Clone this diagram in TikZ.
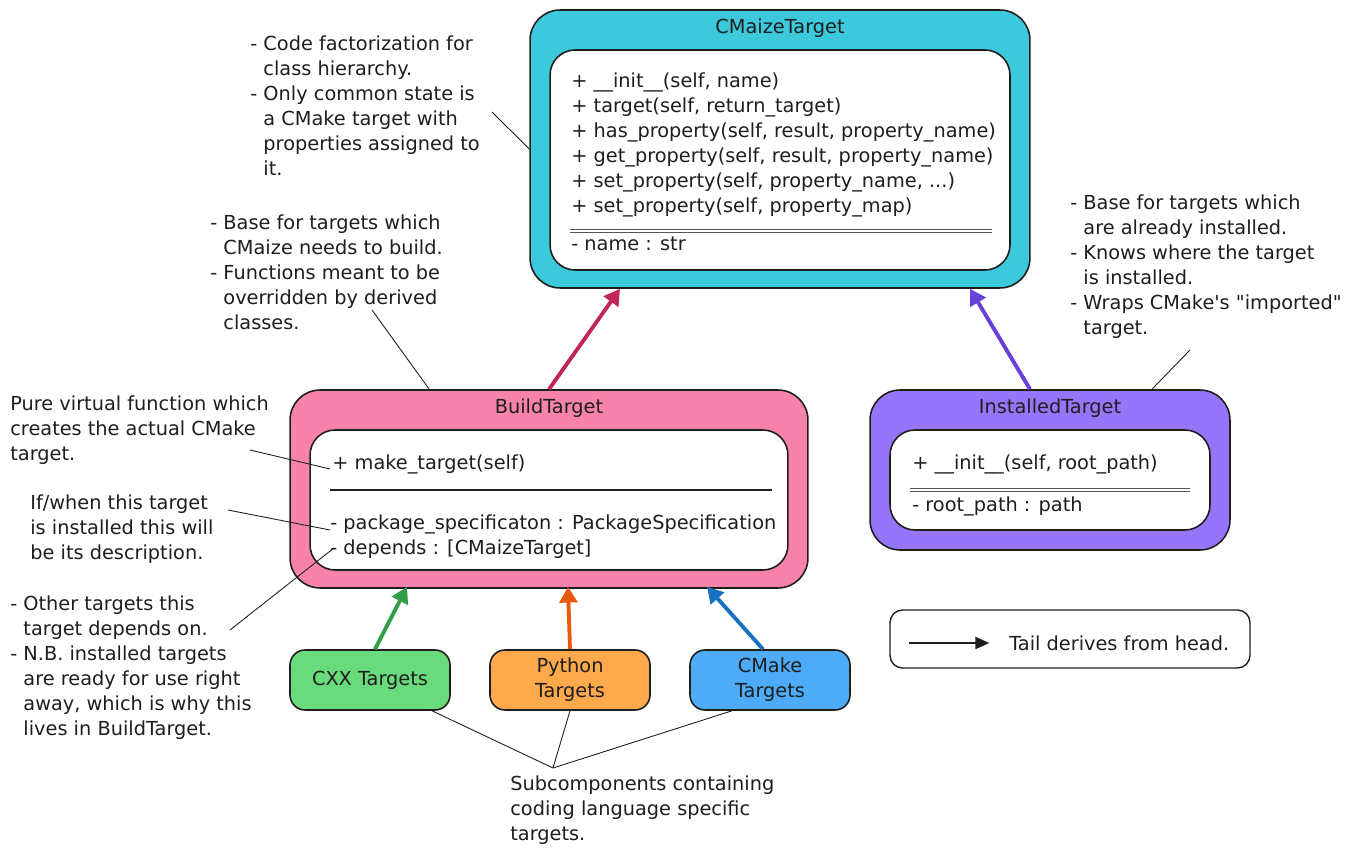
\documentclass[tikz,border=0pt]{standalone}
\usepackage{fontspec}
\setmainfont{DejaVu Sans}[Ligatures=TeXOff]
\usetikzlibrary{arrows.meta,calc}
\definecolor{ink}{HTML}{1E1E1E}
\definecolor{cyanfill}{HTML}{3BC9DB}
\definecolor{pinkfill}{HTML}{F783AC}
\definecolor{purplefill}{HTML}{9775FA}
\definecolor{greenfill}{HTML}{69DB7C}
\definecolor{orangefill}{HTML}{FFA94D}
\definecolor{bluefill}{HTML}{4DABF7}
\definecolor{crimsonline}{HTML}{C2255C}
\definecolor{purpleline}{HTML}{6741D9}
\definecolor{greenline}{HTML}{2F9E44}
\definecolor{orangeline}{HTML}{E8590C}
\definecolor{blueline}{HTML}{1971C2}
\begin{document}
\begin{tikzpicture}[x=0.02cm,y=-0.02cm,
  every node/.style={font=\fontsize{11}{14.3}\selectfont, text=ink},
  outerbox/.style={draw=ink, line width=0.9pt, rounded corners=0.6cm, inner sep=0},
  innerbox/.style={draw=ink, line width=0.9pt, fill=white, rounded corners=0.5cm, inner sep=0},
  smallbox/.style={draw=ink, line width=0.9pt, rounded corners=0.3cm, inner sep=0, align=center, minimum width=3.2cm, minimum height=1.2cm},
  txt/.style={anchor=north west, align=left, inner sep=0},
  inh/.style={line width=2.2pt, -{Triangle[length=9pt,width=10pt]}},
  note/.style={draw=ink, line width=0.5pt},
  sepline/.style={draw=ink!75, line width=0.55pt},
  sepsingle/.style={draw=ink, line width=0.7pt}]
\fill[white] (0,0) rectangle (1347,855);
\useasboundingbox (0,0) rectangle (1347,855);

% ---------- CMaizeTarget ----------
\node[outerbox, fill=cyanfill, minimum width=10cm, minimum height=5.56cm] (cmz) at (780,149) {};
\node[innerbox, minimum width=9.2cm, minimum height=4.4cm] (cmzin) at (780,160) {};
\node (cmzt) at (780,28) {CMaizeTarget};
\node[txt] (cmzm) at (571,72) {+ \_\_init\_\_(self, name)\\
+ target(self, return\_target)\\
+ has\_property(self, result, property\_name)\\
+ get\_property(self, result, property\_name)\\
+ set\_property(self, property\_name, ...)\\
+ set\_property(self, property\_map)};
\draw[sepline] (570,229.5) -- (992,229.5);
\draw[sepline] (570,232.5) -- (992,232.5);
\node[txt] (cmza) at (571,237) {- name : str};

% ---------- BuildTarget ----------
\node[outerbox, fill=pinkfill, minimum width=10.36cm, minimum height=3.96cm] (bld) at (549,489) {};
\node[innerbox, minimum width=9.56cm, minimum height=2.8cm] (bldin) at (549,500) {};
\node (bldt) at (549,408) {BuildTarget};
\node[txt] (bldm) at (332,454) {+ make\_target(self)};
\draw[sepsingle] (330,490) -- (772,490);
\node[txt] (blda) at (330,514) {- package\_specificaton : PackageSpecification\\
- depends : [CMaizeTarget]};

% ---------- InstalledTarget ----------
\node[outerbox, fill=purplefill, minimum width=7.2cm, minimum height=3.2cm] (ins) at (1050,470) {};
\node[innerbox, minimum width=6.4cm, minimum height=2cm] (insin) at (1050,480) {};
\node (inst) at (1050,408) {InstalledTarget};
\node[txt] (insm) at (912,454) {+ \_\_init\_\_(self, root\_path)};
\draw[sepline] (910,488.5) -- (1190,488.5);
\draw[sepline] (910,491.5) -- (1190,491.5);
\node[txt] (insa) at (912,496) {- root\_path : path};

% ---------- Sub components ----------
\node[smallbox, fill=greenfill] (cxx) at (370,680) {CXX Targets};
\node[smallbox, fill=orangefill] (py) at (570,680) {Python\\Targets};
\node[smallbox, fill=bluefill] (cmk) at (770,680) {CMake\\Targets};

% ---------- inheritance arrows ----------
\draw[inh, crimsonline] (bld.north) -- ($(cmz.south)+(-160,0)$);
\draw[inh, purpleline] ($(ins.north)+(-20,0)$) -- ($(cmz.south)+(190,0)$);
\draw[inh, greenline] ($(cxx.north)+(5,0)$) -- ($(bld.south)+(-142,-2)$);
\draw[inh, orangeline] (py.north) -- ($(bld.south)+(19,-2)$);
\draw[inh, blueline] ($(cmk.north)+(-7,0)$) -- ($(bld.south)+(158,-2)$);

% ---------- legend ----------
\node[draw=ink, line width=0.8pt, rounded corners=0.25cm, fill=white, minimum width=7.2cm, minimum height=1.16cm, inner sep=0] (leg) at (1070,639) {};
\draw[line width=0.9pt, draw=ink, -{Triangle[length=8pt,width=7pt]}] ($(leg.west)+(20,4)$) -- ($(leg.west)+(100,4)$);
\node[anchor=west, inner sep=0] (legt) at (1009,643) {Tail derives from head.};

% ---------- annotations ----------
\node[txt] (n1) at (250,35) {- Code factorization for\\
\hphantom{- }class hierarchy.\\
- Only common state is\\
\hphantom{- }a CMake target with\\
\hphantom{- }properties assigned to\\
\hphantom{- }it.};
\coordinate (n1e) at (492,112);
\draw[note] (n1e) -- (cmz.west);

\node[txt] (n2) at (210,214) {- Base for targets which\\
\hphantom{- }CMaize needs to build.\\
- Functions meant to be\\
\hphantom{- }overridden by derived\\
\hphantom{- }classes.};
\coordinate (n2e) at (372,310);
\draw[note] (n2e) -- ($(bld.north west)+(140,0)$);

\node[txt] (n3) at (10,395) {Pure virtual function which\\
creates the actual CMake\\
target.};
\coordinate (n3e) at (250,450);
\draw[note] (n3e) -- ($(bldm.west)+(-2,5)$);

\node[txt] (n4) at (30,494) {If/when this target\\
is installed this will\\
be its description.};
\coordinate (n4e) at (228,510);
\draw[note] (n4e) -- ($(blda.north west)+(0,16)$);

\node[txt] (n5) at (10,595) {- Other targets this\\
\hphantom{- }target depends on.\\
- N.B. installed targets\\
\hphantom{- }are ready for use right\\
\hphantom{- }away, which is why this\\
\hphantom{- }lives in BuildTarget.};
\coordinate (n5e) at (230,630);
\draw[note] (n5e) -- ($(blda.north west)+(4,34)$);

\node[txt] (n6) at (1070,194) {- Base for targets which\\
\hphantom{- }are already installed.\\
- Knows where the target\\
\hphantom{- }is installed.\\
- Wraps CMake's "imported"\\
\hphantom{- }target.};
\coordinate (n6e) at (1190,350);
\draw[note] (n6e) -- ($(ins.north)+(102,0)$);

\node[txt] (n7) at (510,775) {Subcomponents containing\\
coding language specific\\
targets.};
\coordinate (n7p) at (553,768);
\draw[note] (n7p) -- ($(cxx.south)+(62,0)$);
\draw[note] (n7p) -- (py.south);
\draw[note] (n7p) -- ($(cmk.south)+(-38,0)$);
\end{tikzpicture}
\end{document}
